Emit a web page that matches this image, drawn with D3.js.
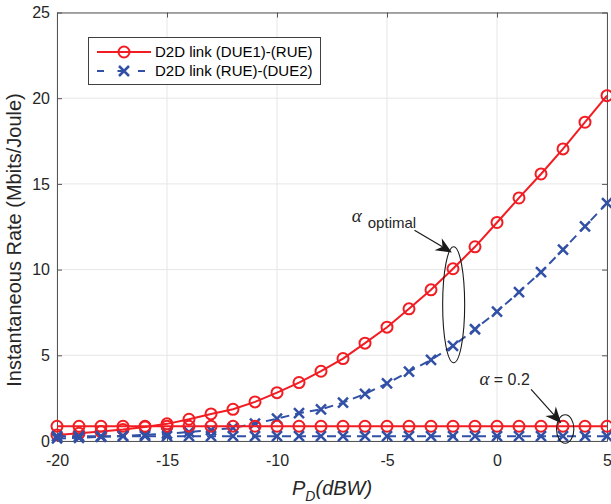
<!DOCTYPE html>
<html>
<head>
<meta charset="utf-8">
<script src="https://cdn.jsdelivr.net/npm/d3@7"></script>
<style>
  body { margin: 0; background: #fff; }
  svg { display: block; font-family: "Liberation Sans", Arial, sans-serif; }
  .grid line { stroke: #e6e6e6; stroke-width: 1; }
  .axis path, .axis line { stroke: #555; stroke-width: 1; }
  .axis text { fill: #262626; font-size: 16px; }
</style>
</head>
<body>
<svg id="chart" width="611" height="504"></svg>
<script>
// power levels (dBW)
const pd = [-20, -19, -18, -17, -16, -15, -14, -13, -12, -11, -10, -9, -8,
            -7, -6, -5, -4, -3, -2, -1, 0, 1, 2, 3, 4, 5];

// alpha optimal
const due1RueOpt = [0.35, 0.45, 0.55, 0.67, 0.82, 1.0, 1.27, 1.58, 1.85, 2.28, 2.82, 3.41, 4.07,
                    4.81, 5.71, 6.64, 7.71, 8.82, 10.05, 11.33, 12.75, 14.18, 15.58, 17.04, 18.6, 20.15];
const rueDue2Opt = [0.15, 0.19, 0.24, 0.3, 0.36, 0.43, 0.52, 0.63, 0.76, 1.02, 1.3, 1.62, 1.85,
                    2.24, 2.75, 3.36, 4.05, 4.73, 5.55, 6.52, 7.55, 8.69, 9.85, 11.16, 12.52, 13.88];

// alpha = 0.2
const due1RueFix = [0.86, 0.86, 0.86, 0.86, 0.86, 0.86, 0.86, 0.86, 0.86, 0.86, 0.86, 0.86, 0.86,
                    0.86, 0.86, 0.86, 0.86, 0.86, 0.86, 0.86, 0.86, 0.86, 0.86, 0.86, 0.86, 0.86];
const rueDue2Fix = [0.28, 0.28, 0.28, 0.28, 0.28, 0.28, 0.28, 0.28, 0.28, 0.28, 0.28, 0.28, 0.28,
                    0.28, 0.28, 0.28, 0.28, 0.28, 0.28, 0.28, 0.28, 0.28, 0.28, 0.28, 0.28, 0.28];

const xTicks = [-20, -15, -10, -5, 0, 5];
const yTicks = [0, 5, 10, 15, 20, 25];
const legendLabels = ['D2D link (DUE1)-(RUE)', 'D2D link (RUE)-(DUE2)'];

const RED = '#f21c22';
const BLUE = '#3150a6';

const svg = d3.select('#chart');
const plotL = 57, plotR = 607, plotT = 12.5, plotB = 441;

const x = d3.scaleLinear().domain([-20, 5]).range([plotL, plotR]);
const y = d3.scaleLinear().domain([0, 25]).range([plotB, plotT]);

// grid
const grid = svg.append('g').attr('class', 'grid');
grid.selectAll('.gx').data(xTicks).enter().append('line')
  .attr('x1', d => x(d)).attr('x2', d => x(d))
  .attr('y1', plotT).attr('y2', plotB);
grid.selectAll('.gy').data(yTicks).enter().append('line')
  .attr('x1', plotL).attr('x2', plotR)
  .attr('y1', d => y(d)).attr('y2', d => y(d));

// axes (box with inward ticks)
svg.append('g').attr('class', 'axis')
  .attr('transform', `translate(0,${plotB})`)
  .call(d3.axisBottom(x).tickValues(xTicks).tickSizeInner(-5).tickSizeOuter(0).tickPadding(14)
    .tickFormat(d => String(d)));
svg.append('g').attr('class', 'axis')
  .attr('transform', `translate(${plotL},0)`)
  .call(d3.axisLeft(y).tickValues(yTicks).tickSizeInner(-5).tickSizeOuter(0).tickPadding(7));
svg.append('g').attr('class', 'axis')
  .attr('transform', `translate(0,${plotT})`)
  .call(d3.axisTop(x).tickValues(xTicks).tickSizeInner(-5).tickSizeOuter(0).tickFormat(''));
svg.append('g').attr('class', 'axis')
  .attr('transform', `translate(${plotR},0)`)
  .call(d3.axisRight(y).tickValues(yTicks).tickSizeInner(-5).tickSizeOuter(0).tickFormat(''));

// series
const line = d3.line().x(d => x(d[0])).y(d => y(d[1]));

function drawCircles(vals) {
  const g = svg.append('g');
  g.append('path').datum(d3.zip(pd, vals))
    .attr('d', line).attr('fill', 'none').attr('stroke', RED).attr('stroke-width', 2);
  g.selectAll('circle').data(d3.zip(pd, vals)).enter().append('circle')
    .attr('cx', d => x(d[0])).attr('cy', d => y(d[1])).attr('r', 5.5)
    .attr('fill', 'none').attr('stroke', RED).attr('stroke-width', 2);
}

function crossPath(cx, cy, s) {
  return `M${cx - s},${cy - s}L${cx + s},${cy + s}M${cx - s},${cy + s}L${cx + s},${cy - s}`;
}

function drawCrosses(vals) {
  const g = svg.append('g');
  g.append('path').datum(d3.zip(pd, vals))
    .attr('d', line).attr('fill', 'none').attr('stroke', BLUE).attr('stroke-width', 2)
    .attr('stroke-dasharray', '9,6');
  g.selectAll('path.mk').data(d3.zip(pd, vals)).enter().append('path')
    .attr('class', 'mk')
    .attr('d', d => crossPath(x(d[0]), y(d[1]), 5))
    .attr('fill', 'none').attr('stroke', BLUE).attr('stroke-width', 2.5);
}

drawCircles(due1RueOpt);
drawCrosses(rueDue2Opt);
drawCircles(due1RueFix);
drawCrosses(rueDue2Fix);

// annotations
function arrow(x1, y1, x2, y2) {
  const a = Math.atan2(y2 - y1, x2 - x1);
  const L = 16, W = 7, N = 11;
  const ux = Math.cos(a), uy = Math.sin(a);
  const px = -uy, py = ux;
  const bx = x2 - ux * L, by = y2 - uy * L;
  const nx = x2 - ux * N, ny = y2 - uy * N;
  svg.append('line').attr('x1', x1).attr('y1', y1).attr('x2', nx).attr('y2', ny)
    .attr('stroke', '#1a1a1a').attr('stroke-width', 1.2);
  svg.append('path')
    .attr('d', `M${x2},${y2}L${bx + px * W},${by + py * W}L${nx},${ny}L${bx - px * W},${by - py * W}Z`)
    .attr('fill', '#1a1a1a');
}

svg.append('ellipse')
  .attr('cx', x(-1.97)).attr('cy', y(7.95)).attr('rx', 11).attr('ry', 58)
  .attr('fill', 'none').attr('stroke', '#1a1a1a').attr('stroke-width', 1.1);
svg.append('ellipse')
  .attr('cx', x(3.1)).attr('cy', y(0.7)).attr('rx', 8.7).attr('ry', 14.2)
  .attr('fill', 'none').attr('stroke', '#1a1a1a').attr('stroke-width', 1.1);

arrow(x(-3.75), y(12.3), x(-2.05), y(11.0));
arrow(x(1.55), y(3.01), x(2.92), y(1.04));

const t1 = svg.append('text').attr('x', x(-6.6)).attr('y', y(12.75)).attr('fill', '#262626');
t1.append('tspan').attr('font-family', '"Liberation Serif", serif').attr('font-style', 'italic')
  .attr('font-size', 19).text('α');
t1.append('tspan').attr('dx', 6).attr('dy', 6).attr('font-size', 15).text('optimal');

const t2 = svg.append('text').attr('x', x(-0.8)).attr('y', y(3.25)).attr('fill', '#262626');
t2.append('tspan').attr('font-family', '"Liberation Serif", serif').attr('font-style', 'italic')
  .attr('font-size', 19).text('α');
t2.append('tspan').attr('font-size', 16).text(' = 0.2');

// axis labels
const xl = svg.append('text')
  .attr('x', 292).attr('y', 495).attr('fill', '#262626')
  .attr('font-size', 20).attr('font-style', 'italic');
xl.append('tspan').text('P');
xl.append('tspan').attr('dy', 6).attr('font-size', 14).text('D');
xl.append('tspan').attr('dy', -6).text('(dBW)');

svg.append('text')
  .attr('transform', `translate(21,240) rotate(-90)`)
  .attr('text-anchor', 'middle').attr('fill', '#262626').attr('font-size', 20)
  .text('Instantaneous Rate (Mbits/Joule)');

// legend
const lg = svg.append('g');
lg.append('rect').attr('x', 88.5).attr('y', 37.5).attr('width', 232).attr('height', 47)
  .attr('fill', '#fff').attr('stroke', '#404040').attr('stroke-width', 1);
const rows = [52, 71];
lg.append('line').attr('x1', 97).attr('x2', 151).attr('y1', rows[0]).attr('y2', rows[0])
  .attr('stroke', RED).attr('stroke-width', 2);
lg.append('circle').attr('cx', 124).attr('cy', rows[0]).attr('r', 5.5)
  .attr('fill', 'none').attr('stroke', RED).attr('stroke-width', 2);
lg.append('line').attr('x1', 97).attr('x2', 151).attr('y1', rows[1]).attr('y2', rows[1])
  .attr('stroke', BLUE).attr('stroke-width', 2).attr('stroke-dasharray', '7,13.5');
lg.append('path').attr('d', crossPath(124, rows[1], 5))
  .attr('fill', 'none').attr('stroke', BLUE).attr('stroke-width', 2.5);
lg.selectAll('text').data(legendLabels).enter().append('text')
  .attr('x', 155).attr('y', (d, i) => rows[i]).attr('dy', '0.36em')
  .attr('font-size', 15).attr('fill', '#000')
  .text(d => d);
</script>
</body>
</html>
